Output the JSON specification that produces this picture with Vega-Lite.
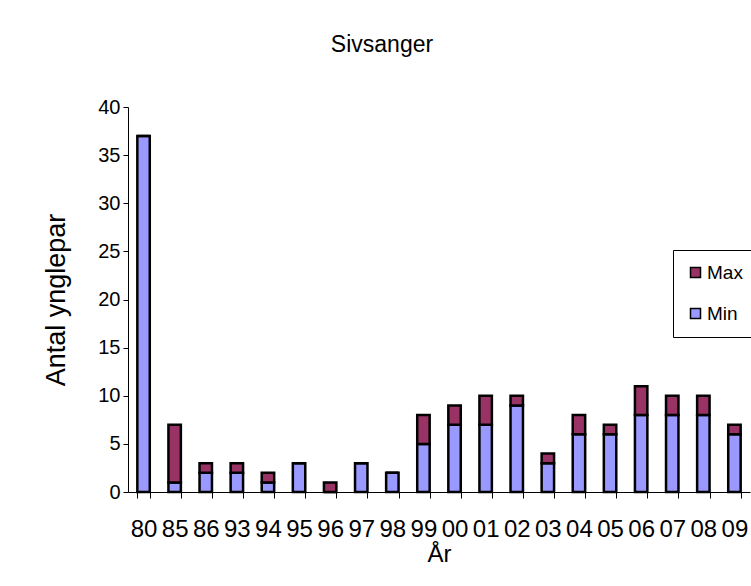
{
  "$schema": "https://vega.github.io/schema/vega-lite/v6.json",
  "width": 622,
  "height": 385,
  "autosize": {"type": "none"},
  "padding": {"left": 128, "top": 107, "right": 1, "bottom": 94},
  "background": "white",
  "title": {
    "text": "Sivsanger",
    "font": "Liberation Sans",
    "fontSize": 23,
    "fontWeight": "normal",
    "color": "black",
    "dx": -57,
    "offset": 40
  },
  "data": {
    "values": [
      {"year": "80", "serie": "Min", "value": 37},
      {"year": "80", "serie": "Max", "value": 0},
      {"year": "85", "serie": "Min", "value": 1},
      {"year": "85", "serie": "Max", "value": 6},
      {"year": "86", "serie": "Min", "value": 2},
      {"year": "86", "serie": "Max", "value": 1},
      {"year": "93", "serie": "Min", "value": 2},
      {"year": "93", "serie": "Max", "value": 1},
      {"year": "94", "serie": "Min", "value": 1},
      {"year": "94", "serie": "Max", "value": 1},
      {"year": "95", "serie": "Min", "value": 3},
      {"year": "95", "serie": "Max", "value": 0},
      {"year": "96", "serie": "Min", "value": 0},
      {"year": "96", "serie": "Max", "value": 1},
      {"year": "97", "serie": "Min", "value": 3},
      {"year": "97", "serie": "Max", "value": 0},
      {"year": "98", "serie": "Min", "value": 2},
      {"year": "98", "serie": "Max", "value": 0},
      {"year": "99", "serie": "Min", "value": 5},
      {"year": "99", "serie": "Max", "value": 3},
      {"year": "00", "serie": "Min", "value": 7},
      {"year": "00", "serie": "Max", "value": 2},
      {"year": "01", "serie": "Min", "value": 7},
      {"year": "01", "serie": "Max", "value": 3},
      {"year": "02", "serie": "Min", "value": 9},
      {"year": "02", "serie": "Max", "value": 1},
      {"year": "03", "serie": "Min", "value": 3},
      {"year": "03", "serie": "Max", "value": 1},
      {"year": "04", "serie": "Min", "value": 6},
      {"year": "04", "serie": "Max", "value": 2},
      {"year": "05", "serie": "Min", "value": 6},
      {"year": "05", "serie": "Max", "value": 1},
      {"year": "06", "serie": "Min", "value": 8},
      {"year": "06", "serie": "Max", "value": 3},
      {"year": "07", "serie": "Min", "value": 8},
      {"year": "07", "serie": "Max", "value": 2},
      {"year": "08", "serie": "Min", "value": 8},
      {"year": "08", "serie": "Max", "value": 2},
      {"year": "09", "serie": "Min", "value": 6},
      {"year": "09", "serie": "Max", "value": 1}
    ]
  },
  "mark": {"type": "bar", "stroke": "black", "strokeWidth": 2.5},
  "encoding": {
    "x": {
      "field": "year",
      "type": "nominal",
      "sort": null,
      "scale": {"paddingInner": 0.6, "paddingOuter": 0.3},
      "axis": {
        "title": "År",
        "labelAngle": 0,
        "tickBand": "extent",
        "tickSize": 6,
        "tickColor": "black",
        "domainColor": "black",
        "labelFont": "Liberation Sans",
        "labelFontSize": 24,
        "labelColor": "black",
        "labelPadding": 19,
        "labelOverlap": false,
        "titleFont": "Liberation Sans",
        "titleFontSize": 24,
        "titleFontWeight": "normal",
        "titleColor": "black",
        "titlePadding": 1
      }
    },
    "y": {
      "field": "value",
      "type": "quantitative",
      "stack": "zero",
      "scale": {"domain": [0, 40], "nice": false},
      "axis": {
        "title": "Antal ynglepar",
        "values": [0, 5, 10, 15, 20, 25, 30, 35, 40],
        "grid": false,
        "tickSize": 5,
        "tickColor": "black",
        "domainColor": "black",
        "labelFont": "Liberation Sans",
        "labelFontSize": 20,
        "labelColor": "black",
        "labelPadding": 3,
        "titleFont": "Liberation Sans",
        "titleFontSize": 27,
        "titleFontWeight": "normal",
        "titleColor": "black",
        "titlePadding": 27
      }
    },
    "color": {
      "field": "serie",
      "type": "nominal",
      "scale": {"domain": ["Max", "Min"], "range": ["#993366", "#9999FF"]},
      "legend": {
        "title": null,
        "orient": "none",
        "legendX": 545,
        "legendY": 143,
        "symbolType": "square",
        "symbolSize": 100,
        "symbolStrokeColor": "black",
        "symbolStrokeWidth": 1.5,
        "symbolOpacity": 1,
        "labelFont": "Liberation Sans",
        "labelFontSize": 19,
        "labelColor": "black",
        "labelOffset": 2,
        "rowPadding": 21,
        "padding": 13,
        "strokeColor": "black",
        "fillColor": "white"
      }
    },
    "order": {"field": "serie", "sort": "descending"}
  },
  "config": {"view": {"stroke": null}}
}
